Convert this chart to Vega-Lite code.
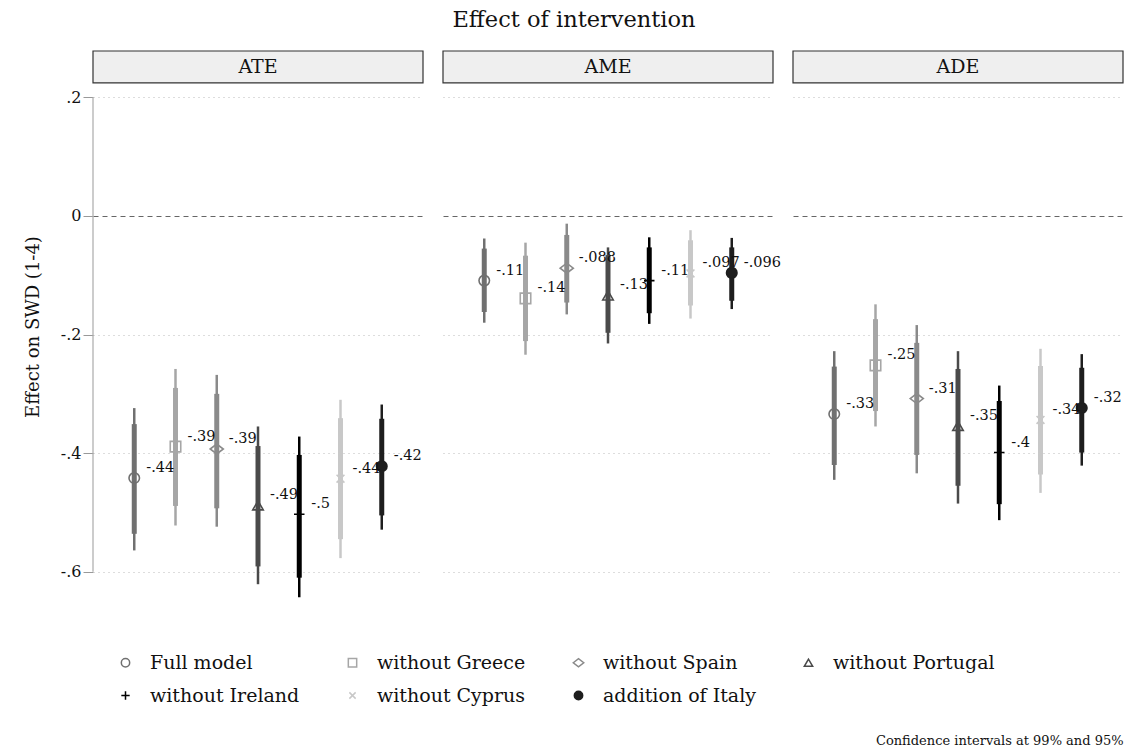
{
  "$schema": "https://vega.github.io/schema/vega-lite/v6.json",
  "background": "white",
  "padding": {"left": 24, "right": 5, "top": 8, "bottom": 6},
  "title": {"text": "Confidence intervals at 99% and 95%", "orient": "bottom", "anchor": "end", "fontSize": 13, "fontWeight": "normal", "color": "#111", "font": "DejaVu Serif", "offset": 6},
  "config": {
    "font": "DejaVu Serif",
    "view": {"stroke": null},
    "legend": {"orient": "bottom", "direction": "horizontal", "columns": 4, "gridAlign": "each", "columnPadding": 43, "rowPadding": 13, "labelFontSize": 19, "labelLimit": 300, "labelFont": "DejaVu Serif", "labelColor": "#111", "symbolSize": 70, "symbolStrokeWidth": 1.5, "labelOffset": 15, "padding": 23, "offset": 28}
  },
  "data": {"values": [
    {"panel": "ATE", "model": "Full model", "est": -0.442, "label": "-.44", "lo95": -0.536, "hi95": -0.351, "lo99": -0.564, "hi99": -0.324},
    {"panel": "ATE", "model": "without Greece", "est": -0.389, "label": "-.39", "lo95": -0.489, "hi95": -0.290, "lo99": -0.522, "hi99": -0.258},
    {"panel": "ATE", "model": "without Spain", "est": -0.393, "label": "-.39", "lo95": -0.493, "hi95": -0.300, "lo99": -0.524, "hi99": -0.268},
    {"panel": "ATE", "model": "without Portugal", "est": -0.488, "label": "-.49", "lo95": -0.591, "hi95": -0.388, "lo99": -0.621, "hi99": -0.355},
    {"panel": "ATE", "model": "without Ireland", "est": -0.503, "label": "-.5", "lo95": -0.610, "hi95": -0.403, "lo99": -0.643, "hi99": -0.372},
    {"panel": "ATE", "model": "without Cyprus", "est": -0.443, "label": "-.44", "lo95": -0.545, "hi95": -0.341, "lo99": -0.577, "hi99": -0.310},
    {"panel": "ATE", "model": "addition of Italy", "est": -0.422, "label": "-.42", "lo95": -0.505, "hi95": -0.342, "lo99": -0.529, "hi99": -0.318},
    {"panel": "AME", "model": "Full model", "est": -0.109, "label": "-.11", "lo95": -0.162, "hi95": -0.055, "lo99": -0.180, "hi99": -0.038},
    {"panel": "AME", "model": "without Greece", "est": -0.139, "label": "-.14", "lo95": -0.211, "hi95": -0.067, "lo99": -0.234, "hi99": -0.045},
    {"panel": "AME", "model": "without Spain", "est": -0.088, "label": "-.088", "lo95": -0.146, "hi95": -0.032, "lo99": -0.166, "hi99": -0.013},
    {"panel": "AME", "model": "without Portugal", "est": -0.134, "label": "-.13", "lo95": -0.197, "hi95": -0.066, "lo99": -0.215, "hi99": -0.053},
    {"panel": "AME", "model": "without Ireland", "est": -0.109, "label": "-.11", "lo95": -0.164, "hi95": -0.053, "lo99": -0.182, "hi99": -0.036},
    {"panel": "AME", "model": "without Cyprus", "est": -0.097, "label": "-.097", "lo95": -0.151, "hi95": -0.041, "lo99": -0.173, "hi99": -0.024},
    {"panel": "AME", "model": "addition of Italy", "est": -0.096, "label": "-.096", "lo95": -0.143, "hi95": -0.053, "lo99": -0.157, "hi99": -0.037},
    {"panel": "ADE", "model": "Full model", "est": -0.334, "label": "-.33", "lo95": -0.420, "hi95": -0.254, "lo99": -0.445, "hi99": -0.228},
    {"panel": "ADE", "model": "without Greece", "est": -0.252, "label": "-.25", "lo95": -0.329, "hi95": -0.174, "lo99": -0.355, "hi99": -0.149},
    {"panel": "ADE", "model": "without Spain", "est": -0.308, "label": "-.31", "lo95": -0.403, "hi95": -0.214, "lo99": -0.434, "hi99": -0.184},
    {"panel": "ADE", "model": "without Portugal", "est": -0.354, "label": "-.35", "lo95": -0.455, "hi95": -0.258, "lo99": -0.485, "hi99": -0.228},
    {"panel": "ADE", "model": "without Ireland", "est": -0.399, "label": "-.4", "lo95": -0.486, "hi95": -0.312, "lo99": -0.513, "hi99": -0.286},
    {"panel": "ADE", "model": "without Cyprus", "est": -0.344, "label": "-.34", "lo95": -0.436, "hi95": -0.253, "lo99": -0.467, "hi99": -0.224},
    {"panel": "ADE", "model": "addition of Italy", "est": -0.324, "label": "-.32", "lo95": -0.399, "hi95": -0.256, "lo99": -0.421, "hi99": -0.233}
  ]},
  "vconcat": [
    {
      "title": {"text": "Effect of intervention", "anchor": "middle", "fontSize": 22.5, "fontWeight": "normal", "color": "#111", "font": "DejaVu Serif", "offset": 19},
      "facet": {"column": {"field": "panel", "type": "nominal", "sort": ["ATE", "AME", "ADE"], "header": {"title": null, "labels": false}}},
      "spacing": 20,
      "bounds": "flush",
      "spec": {
        "width": 330,
        "height": 551,
        "layer": [
          {
            "transform": [{"filter": "datum.model === 'Full model'"}],
            "mark": {"type": "rect", "fill": "#efefef", "stroke": "#333", "strokeWidth": 1.2},
            "encoding": {
              "x": {"value": 0},
              "x2": {"value": "width"},
              "y": {"datum": 0.2782, "type": "quantitative", "title": "Effect on SWD (1-4)"},
              "y2": {"datum": 0.2243}
            }
          },
          {
            "transform": [{"filter": "datum.model === 'Full model'"}],
            "mark": {"type": "text", "fontSize": 19, "color": "#111", "align": "center", "baseline": "middle"},
            "encoding": {
              "text": {"field": "panel"},
              "y": {"datum": 0.2512, "type": "quantitative", "title": "Effect on SWD (1-4)"}
            }
          },
          {
            "transform": [{"filter": "datum.model === 'Full model' && datum.panel === 'ATE'"}],
            "mark": {"type": "rule", "color": "#aaa", "strokeWidth": 1.2},
            "encoding": {
              "x": {"value": 0},
              "y": {"datum": -0.6, "type": "quantitative", "title": "Effect on SWD (1-4)"},
              "y2": {"datum": 0.2}
            }
          },
          {
            "mark": {"type": "rule", "strokeWidth": 2.5},
            "encoding": {
              "x": {"field": "model", "type": "nominal", "scale": {"type": "point", "padding": 1, "domain": ["Full model", "without Greece", "without Spain", "without Portugal", "without Ireland", "without Cyprus", "addition of Italy"]}, "axis": null},
              "y": {
                "field": "lo99", "type": "quantitative", "title": "Effect on SWD (1-4)",
                "scale": {"domain": [-0.651, 0.2782], "nice": false, "zero": false},
                "axis": {
                  "values": [-0.6, -0.4, -0.2, 0, 0.2],
                  "labelExpr": "datum.value == 0 ? '0' : (datum.value < 0 ? '-' : '') + replace(format(abs(datum.value), '.1f'), '0.', '.')",
                  "domain": false,
                  "tickColor": "#999",
                  "tickSize": 10,
                  "labelPadding": 2,
                  "labelFontSize": 16,
                  "labelColor": "#111",
                  "titleFontSize": 18,
                  "titleFontWeight": "normal",
                  "titleColor": "#111",
                  "titlePadding": 18,
                  "grid": true,
                  "gridColor": {"condition": {"test": "datum.value === 0", "value": "#666"}, "value": "#bbb"},
                  "gridDash": {"condition": {"test": "datum.value === 0", "value": [5, 4]}, "value": [1, 4]},
                  "gridWidth": 1
                }
              },
              "y2": {"field": "hi99"},
              "stroke": {"field": "model", "type": "nominal", "title": null, "scale": {"domain": ["Full model", "without Greece", "without Spain", "without Portugal", "without Ireland", "without Cyprus", "addition of Italy"], "range": ["#707070", "#a6a6a6", "#8a8a8a", "#4a4a4a", "#000000", "#c8c8c8", "#1e1e1e"]}}
            }
          },
          {
            "mark": {"type": "rule", "strokeWidth": 5},
            "encoding": {
              "x": {"field": "model", "type": "nominal"},
              "y": {"field": "lo95", "type": "quantitative", "title": "Effect on SWD (1-4)"},
              "y2": {"field": "hi95"},
              "stroke": {"field": "model", "type": "nominal", "title": null}
            }
          },
          {
            "mark": {"type": "point", "size": 110, "strokeWidth": 1.6, "opacity": 1},
            "encoding": {
              "x": {"field": "model", "type": "nominal"},
              "y": {"field": "est", "type": "quantitative", "title": "Effect on SWD (1-4)"},
              "stroke": {"field": "model", "type": "nominal", "title": null},
              "fill": {"field": "model", "type": "nominal", "title": null, "scale": {"domain": ["Full model", "without Greece", "without Spain", "without Portugal", "without Ireland", "without Cyprus", "addition of Italy"], "range": ["transparent", "transparent", "transparent", "transparent", "transparent", "transparent", "#1e1e1e"]}},
              "shape": {"field": "model", "type": "nominal", "title": null, "scale": {"domain": ["Full model", "without Greece", "without Spain", "without Portugal", "without Ireland", "without Cyprus", "addition of Italy"], "range": ["circle", "square", "M-1.25,0L0,-0.95L1.25,0L0,0.95Z", "triangle-up", "M-1,0L1,0M0,-1L0,1", "M-0.75,-0.75L0.75,0.75M-0.75,0.75L0.75,-0.75", "circle"]}}
            }
          },
          {
            "mark": {"type": "text", "align": "left", "baseline": "middle", "dx": 12, "dy": -10, "fontSize": 14.5, "color": "#111"},
            "encoding": {
              "x": {"field": "model", "type": "nominal"},
              "y": {"field": "est", "type": "quantitative", "title": "Effect on SWD (1-4)"},
              "text": {"field": "label"}
            }
          }
        ]
      }
    }
  ]
}
